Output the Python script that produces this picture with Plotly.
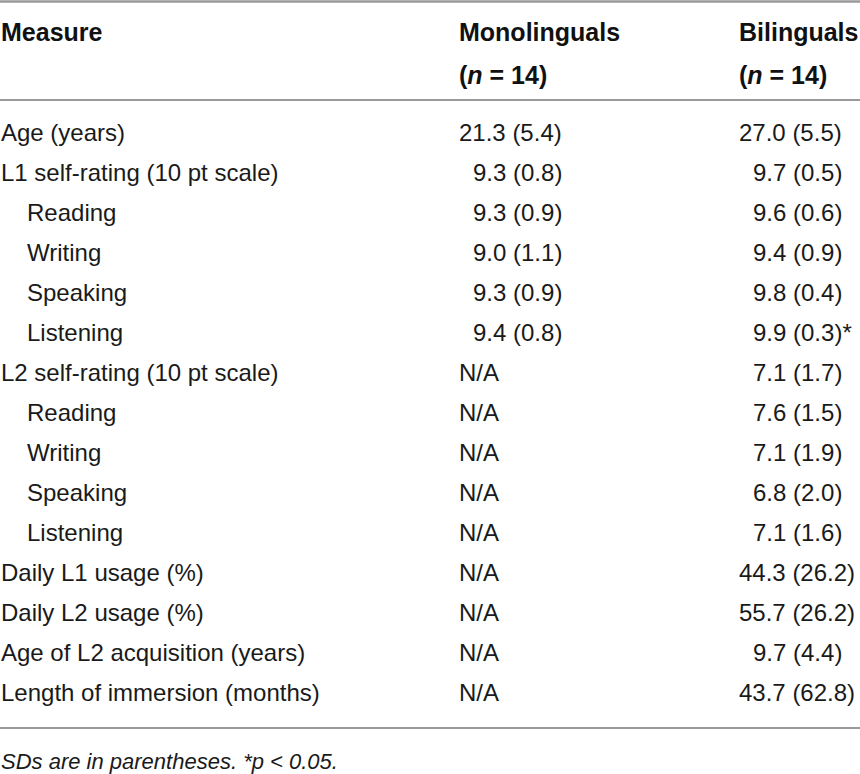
import plotly.graph_objects as go

# table content
header_cols = ["Measure", "Monolinguals", "Bilinguals"]
group_n = [14, 14]

measures = ["Age (years)", "L1 self-rating (10 pt scale)", "Reading", "Writing",
            "Speaking", "Listening", "L2 self-rating (10 pt scale)", "Reading",
            "Writing", "Speaking", "Listening", "Daily L1 usage (%)",
            "Daily L2 usage (%)", "Age of L2 acquisition (years)",
            "Length of immersion (months)"]
sub_item = [0, 0, 1, 1, 1, 1, 0, 1, 1, 1, 1, 0, 0, 0, 0]

mono_mean = [21.3, 9.3, 9.3, 9.0, 9.3, 9.4, None, None, None, None, None, None, None, None, None]
mono_sd = [5.4, 0.8, 0.9, 1.1, 0.9, 0.8, None, None, None, None, None, None, None, None, None]
bi_mean = [27.0, 9.7, 9.6, 9.4, 9.8, 9.9, 7.1, 7.6, 7.1, 6.8, 7.1, 44.3, 55.7, 9.7, 43.7]
bi_sd = [5.5, 0.5, 0.6, 0.9, 0.4, 0.3, 1.7, 1.5, 1.9, 2.0, 1.6, 26.2, 26.2, 4.4, 62.8]
significant = [False, False, False, False, False, True, False, False, False, False, False, False, False, False, False]

footnote = "SDs are in parentheses. *p &lt; 0.05."

W, H = 860, 774
FONT = "Liberation Sans"
col_x = [0, 458, 738]
digit_w = 13.5
row0_y, row_h = 132, 40

fig = go.Figure()

def add_text(x, y, txt, size=24, color="#1a1a1a"):
    fig.add_annotation(x=x, y=y, text=txt, showarrow=False, xanchor="left",
                       yanchor="middle", xref="x", yref="y", borderpad=0,
                       font=dict(family=FONT, size=size, color=color))

def cell(mean, sd):
    if mean is None:
        return "N/A", 0
    pad = digit_w if mean < 10 else 0
    return f"{mean:.1f} ({sd:.1f})", pad

# header
for i, name in enumerate(header_cols):
    add_text(col_x[i], 32, f"<b>{name}</b>", size=25, color="#111")
for i, n in enumerate(group_n):
    add_text(col_x[i + 1], 75, f"<b>(<i>n</i> = {n})</b>", size=25, color="#111")

# body
for i, m in enumerate(measures):
    y = row0_y + i * row_h
    add_text(col_x[0] + (26 if sub_item[i] else 0), y, m)
    t, pad = cell(mono_mean[i], mono_sd[i])
    add_text(col_x[1] + pad, y, t)
    t, pad = cell(bi_mean[i], bi_sd[i])
    if significant[i]:
        t += "*"
    add_text(col_x[2] + pad, y, t)

add_text(0, 761, f"<i>{footnote}</i>", size=22)

# rules
for y, w in [(1.5, 2.5), (100, 1.8), (728, 1.8)]:
    fig.add_shape(type="line", x0=0, x1=W, y0=y, y1=y, xref="x", yref="y",
                  line=dict(color="#9a9a9a", width=w))

fig.update_xaxes(range=[0, W], visible=False, fixedrange=True)
fig.update_yaxes(range=[H, 0], visible=False, fixedrange=True)
fig.update_layout(width=W, height=H, margin=dict(l=0, r=0, t=0, b=0),
                  paper_bgcolor="white", plot_bgcolor="white", showlegend=False)

fig.write_html("out.html", config={"displayModeBar": False},
               post_script="document.body.style.margin='0';")
